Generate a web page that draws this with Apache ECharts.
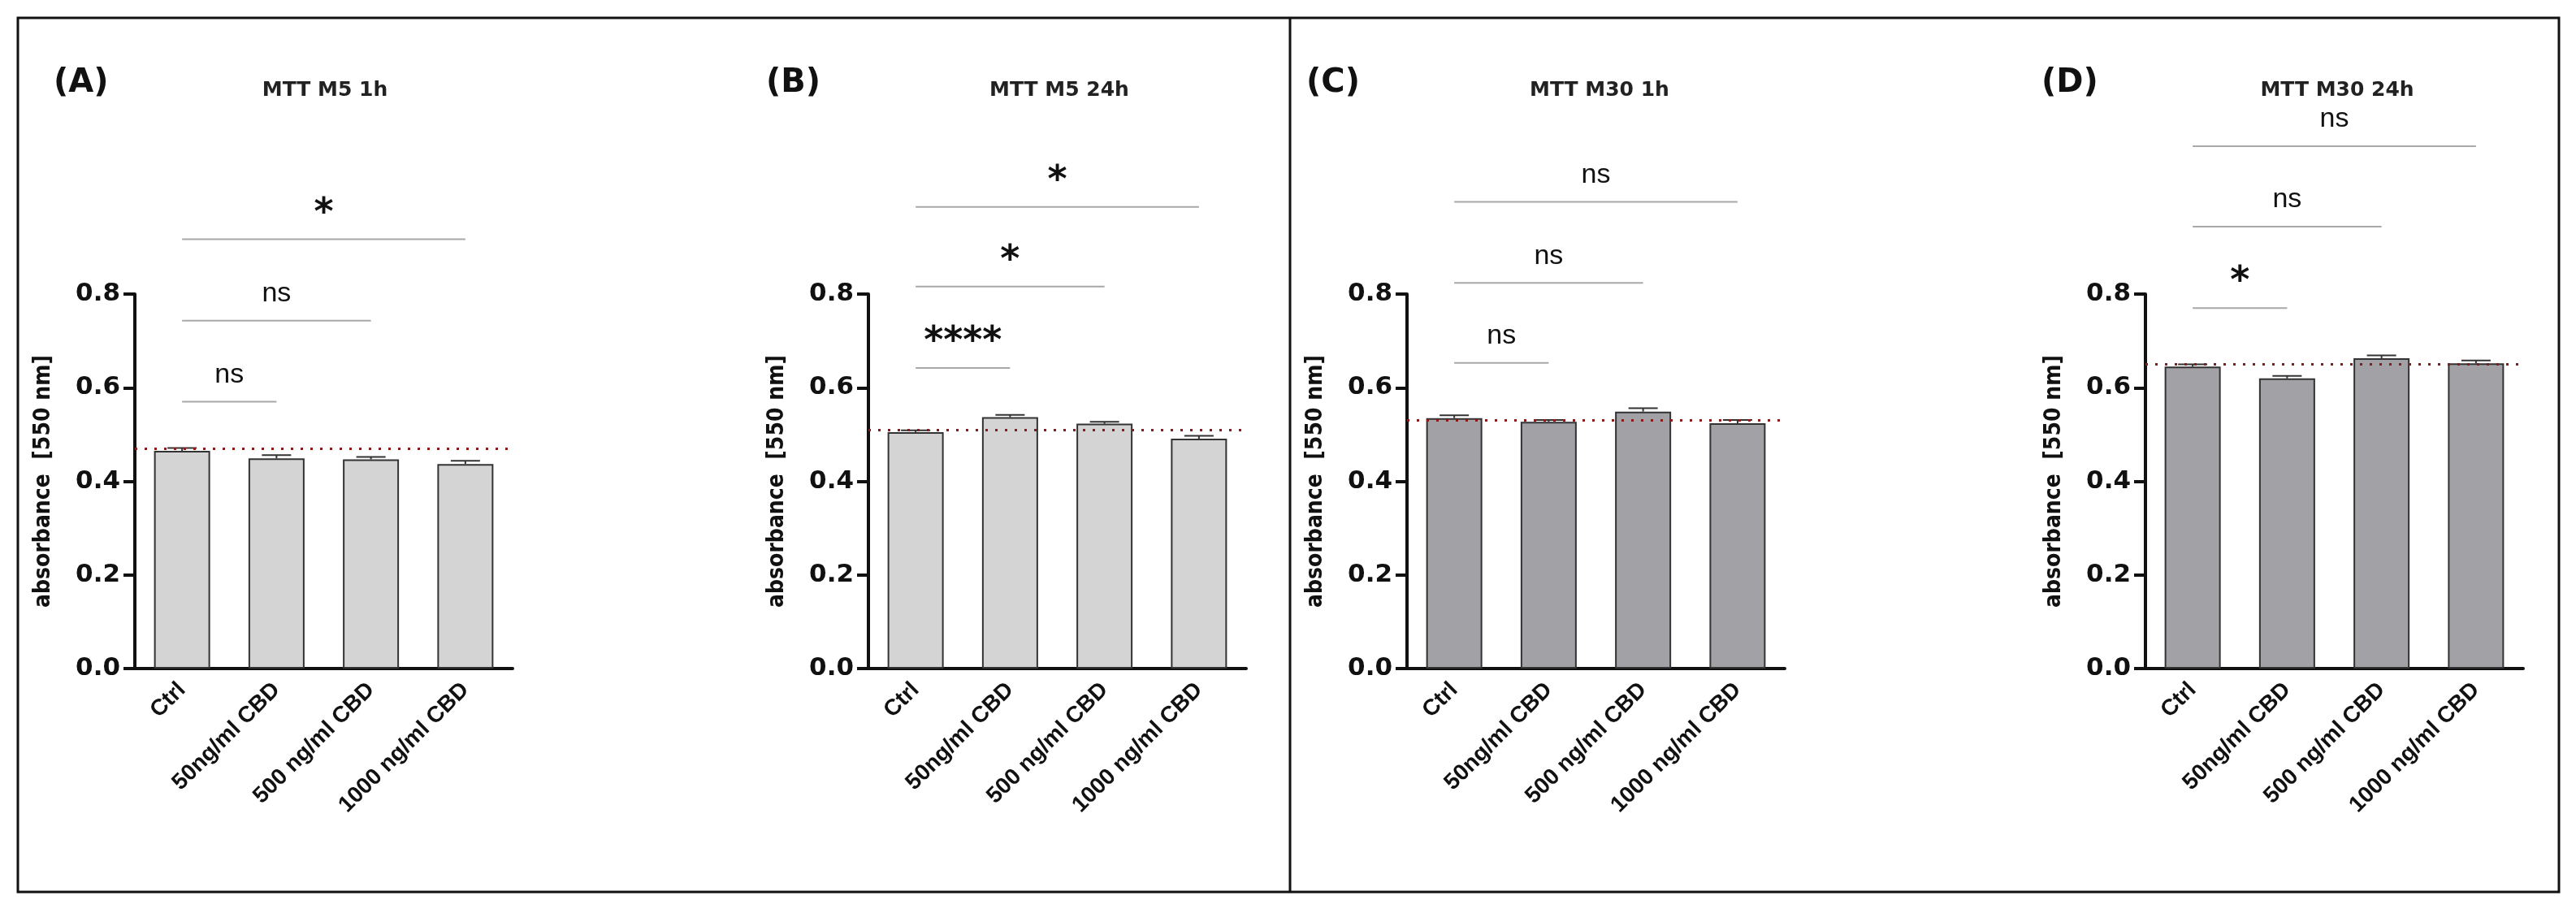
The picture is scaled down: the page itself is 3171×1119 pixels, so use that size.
<!DOCTYPE html>
<html>
<head>
<meta charset="utf-8">
<script src="https://cdn.jsdelivr.net/npm/echarts@6/dist/echarts.min.js"></script>
<style>
  html, body { margin: 0; padding: 0; background: #fff; }
  #main { width: 3171px; height: 1119px; }
</style>
</head>
<body>
<div id="main"></div>
<script>
var chartDom = document.getElementById("main");
var myChart = echarts.init(chartDom);

var cats = ["Ctrl", "50ng/ml CBD", "500 ng/ml CBD", "1000 ng/ml CBD"];

// one entry per panel: bar means, SEM, control dotted line, significance bars
var panels = [
  { tag: "(A)", title: "MTT M5 1h", left: 166, tagX: 97, titleX: 395, color: "#d4d4d4",
    values: [0.465, 0.449, 0.447, 0.437], err: [0.006, 0.007, 0.005, 0.007], ref: 0.469,
    sig: [[0, 1, 0.570, "ns"], [0, 2, 0.743, "ns"], [0, 3, 0.917, "*"]] },
  { tag: "(B)", title: "MTT M5 24h", left: 1069, tagX: 974, titleX: 1299, color: "#d4d4d4",
    values: [0.505, 0.537, 0.523, 0.491], err: [0.004, 0.005, 0.004, 0.006], ref: 0.505,
    sig: [[0, 1, 0.642, "****"], [0, 2, 0.816, "*"], [0, 3, 0.986, "*"]] },
  { tag: "(C)", title: "MTT M30 1h", left: 1732, tagX: 1639, titleX: 1964, color: "#a2a1a6",
    values: [0.535, 0.527, 0.549, 0.524], err: [0.006, 0.004, 0.007, 0.007], ref: 0.533,
    sig: [[0, 1, 0.653, "ns"], [0, 2, 0.824, "ns"], [0, 3, 0.997, "ns"]] },
  { tag: "(D)", title: "MTT M30 24h", left: 2641, tagX: 2544, titleX: 2872, color: "#a2a1a6",
    values: [0.645, 0.620, 0.663, 0.652], err: [0.005, 0.005, 0.006, 0.006], ref: 0.645,
    sig: [[0, 1, 0.770, "*"], [0, 2, 0.944, "ns"], [0, 3, 1.116, "ns"]] }
];

var grids = [], xAxes = [], yAxes = [], series = [], titles = [];

panels.forEach(function (p, i) {
  grids.push({ left: p.left, top: 362, width: 465, height: 461 });
  xAxes.push({
    type: "category", gridIndex: i, data: cats,
    axisLine: { lineStyle: { color: "#111", width: 4 } },
    axisTick: { alignWithLabel: true, length: 14, lineStyle: { color: "#111", width: 4 } },
    axisLabel: { rotate: 45, color: "#111", fontWeight: "bold", fontSize: 28,
                 fontFamily: "Liberation Sans", margin: 22, interval: 0 }
  });
  yAxes.push({
    type: "value", gridIndex: i, min: 0, max: 0.8, interval: 0.2,
    name: "absorbance  [550 nm]", nameLocation: "middle", nameGap: 98,
    nameTextStyle: { color: "#111", fontWeight: "bold", fontSize: 28, fontFamily: "DejaVu Sans Condensed" },
    axisLine: { show: true, lineStyle: { color: "#111", width: 4 } },
    axisTick: { show: true, length: 14, lineStyle: { color: "#111", width: 4 } },
    splitLine: { show: false },
    axisLabel: { color: "#111", fontWeight: "bold", fontSize: 31, fontFamily: "DejaVu Sans", margin: 18,
                 formatter: function (v) { return v.toFixed(1); } }
  });

  series.push({
    type: "bar", xAxisIndex: i, yAxisIndex: i, data: p.values, barWidth: 69,
    itemStyle: { color: p.color, borderColor: "#333", borderWidth: 2 },
    markLine: {
      silent: true, symbol: "none", label: { show: false },
      lineStyle: { color: "#8b1a1a", type: [3, 9], width: 3 },
      data: [{ yAxis: p.ref }]
    },
    z: 2
  });

  // error bars (mean + SEM cap)
  series.push({
    type: "custom", xAxisIndex: i, yAxisIndex: i, z: 3,
    data: p.values.map(function (v, k) { return [k, v, v + p.err[k]]; }),
    renderItem: function (params, api) {
      var a = api.coord([api.value(0), api.value(1)]);
      var b = api.coord([api.value(0), api.value(2)]);
      return { type: "group", children: [
        { type: "line", shape: { x1: a[0], y1: a[1], x2: b[0], y2: b[1] }, style: { stroke: "#333", lineWidth: 2 } },
        { type: "line", shape: { x1: b[0] - 18, y1: b[1], x2: b[0] + 18, y2: b[1] }, style: { stroke: "#333", lineWidth: 2 } }
      ] };
    }
  });

  // significance brackets
  series.push({
    type: "custom", xAxisIndex: i, yAxisIndex: i, clip: false, z: 3,
    data: p.sig.map(function (s) { return [s[0], s[1], s[2], s[3]]; }),
    renderItem: function (params, api) {
      var s = p.sig[params.dataIndex];
      var a = api.coord([s[0], s[2]]);
      var b = api.coord([s[1], s[2]]);
      var star = s[3] !== "ns";
      return { type: "group", children: [
        { type: "line", shape: { x1: a[0], y1: a[1], x2: b[0], y2: b[1] }, style: { stroke: "#a8a8a8", lineWidth: 2 } },
        { type: "text", x: (a[0] + b[0]) / 2, y: a[1] - (star ? 8 : 16),
          style: { text: s[3], textAlign: "center", textVerticalAlign: "bottom",
                   font: star ? "bold 46px DejaVu Sans" : "34px Liberation Sans", fill: "#111" } }
      ] };
    }
  });

  titles.push({ text: p.tag, left: p.tagX - 36, top: 78,
                textStyle: { fontSize: 40, fontWeight: "bold", color: "#111", fontFamily: "DejaVu Sans" } });
  titles.push({ text: p.title, left: p.titleX, top: 94, textAlign: "center",
                textStyle: { fontSize: 25, fontWeight: "bold", color: "#222", fontFamily: "DejaVu Sans" } });
});

var option = {
  animation: false,
  title: titles,
  grid: grids,
  xAxis: xAxes,
  yAxis: yAxes,
  series: series,
  graphic: [
    { type: "rect", shape: { x: 22, y: 22, width: 3128, height: 1076 },
      style: { fill: "none", stroke: "#111", lineWidth: 3 } },
    { type: "line", shape: { x1: 1588, y1: 22, x2: 1588, y2: 1098 },
      style: { stroke: "#111", lineWidth: 3 } }
  ]
};

option && myChart.setOption(option);
</script>
</body>
</html>
